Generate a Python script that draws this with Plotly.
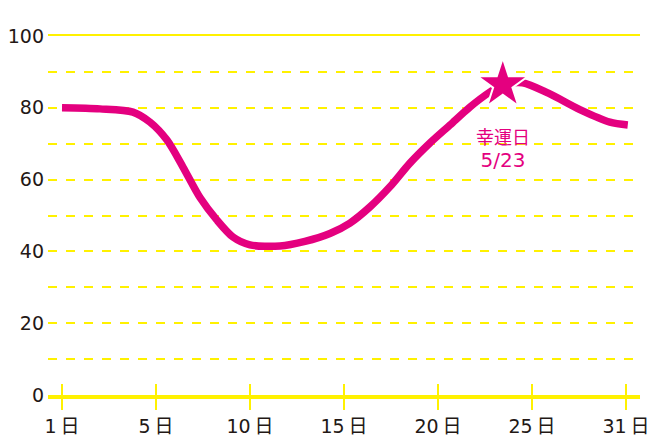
import plotly.graph_objects as go

# Tick categories (equally spaced on the axis)
tick_labels = ["1\u2009日", "5\u2009日", "10\u2009日", "15\u2009日", "20\u2009日", "25\u2009日", "31\u2009日"]
tick_pos = [0, 1, 2, 3, 4, 5, 6]

# Curve (x in tick-position units)
curve_x = [0, 0.404, 0.755, 0.936, 1.117, 1.287, 1.468, 1.649, 1.819, 2.0, 2.319, 2.585,
           2.851, 3.064, 3.277, 3.489, 3.702, 3.915, 4.128, 4.340, 4.553, 4.69, 4.90,
           5.18, 5.51, 5.83, 6.02]
curve_y = [80, 79.7, 78.8, 76, 71, 63.5, 55, 48.7, 44, 41.8, 41.5, 42.8,
           45, 47.9, 52.4, 58, 64.6, 70.2, 75.2, 80.2, 84.4, 86.5, 87,
           84, 79.5, 76, 75.2]

# Lucky day marker
lucky_x = [4.69]
lucky_y = [86.5]
lucky_text = "幸運日<br><span style='font-size:20px'>5/23</span>"

y_ticks = [0, 20, 40, 60, 80, 100]

MAGENTA = "#E4007F"
YELLOW = "#FFF100"
TEXT = "#231815"
FONT = "DejaVu Sans, Noto Sans CJK JP, sans-serif"

fig = go.Figure()
fig.add_trace(go.Scatter(x=curve_x, y=curve_y, mode="lines",
                         line=dict(color=MAGENTA, width=7.5, shape="spline", smoothing=0.8),
                         hoverinfo="skip", showlegend=False))
fig.add_trace(go.Scatter(x=lucky_x, y=lucky_y, mode="markers",
                         marker=dict(symbol="star", size=38, color=MAGENTA,
                                     line=dict(color="white", width=2)),
                         hoverinfo="skip", showlegend=False))
# empty traces to activate overlay axes
fig.add_trace(go.Scatter(x=[], y=[], xaxis="x2", showlegend=False, hoverinfo="skip"))
fig.add_trace(go.Scatter(x=[], y=[], xaxis="x3", showlegend=False, hoverinfo="skip"))

fig.add_annotation(x=lucky_x[0], y=lucky_y[0], text=lucky_text, showarrow=False,
                   yshift=-65, font=dict(color=MAGENTA, size=18,
                                         family="DejaVu Sans, Noto Sans CJK JP, sans-serif"),
                   align="center")

xr = [-0.149, 6.15]
# page body has an 8px margin, so the figure is sized/offset to compensate
fig.update_layout(
    width=652, height=433,
    margin=dict(l=40, r=20, t=28, b=46, autoexpand=False),
    paper_bgcolor="white", plot_bgcolor="white",
    font=dict(family=FONT, color=TEXT),
    xaxis=dict(range=xr, tickvals=tick_pos, ticktext=tick_labels, automargin=False,
               showgrid=False, zeroline=False,
               showline=True, linecolor=YELLOW, linewidth=4,
               ticks="outside", ticklen=11, tickwidth=2, tickcolor=YELLOW,
               tickfont=dict(size=19, color=TEXT, family=FONT)),
    xaxis2=dict(range=xr, overlaying="x", anchor="y", side="bottom", automargin=False,
                tickvals=tick_pos, showticklabels=False, showgrid=False,
                zeroline=False, showline=False,
                ticks="inside", ticklen=11, tickwidth=2, tickcolor=YELLOW),
    xaxis3=dict(range=xr, overlaying="x", anchor="y", side="top", automargin=False,
                showticklabels=False, showgrid=False, zeroline=False,
                showline=True, linecolor=YELLOW, linewidth=2, ticks=""),
    yaxis=dict(range=[0, 100], tickvals=y_ticks, showline=False, zeroline=False,
               automargin=False,
               showgrid=True, gridcolor=YELLOW, gridwidth=2, griddash="dash",
               ticks="", ticklabelstandoff=3,
               tickfont=dict(size=19, color=TEXT, family=FONT),
               minor=dict(dtick=10, showgrid=True, gridcolor=YELLOW,
                          gridwidth=2, griddash="dash")),
)

fig.write_html("out.html")
